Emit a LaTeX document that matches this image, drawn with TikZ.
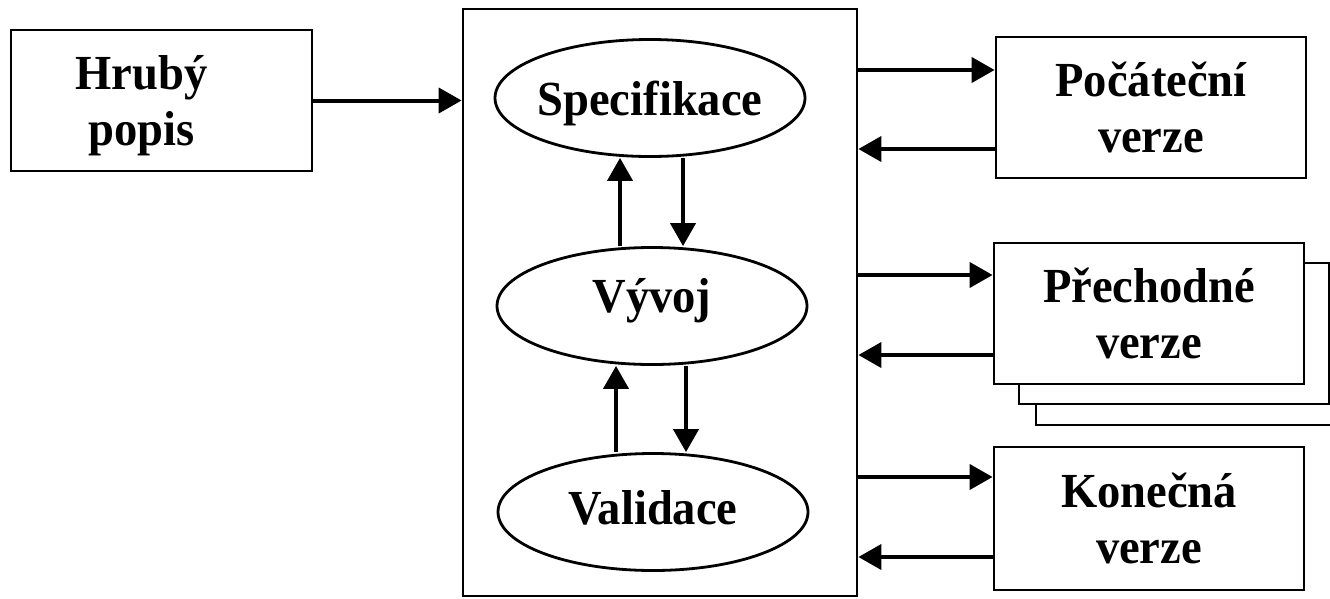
\documentclass[tikz,border=0pt]{standalone}
\usepackage{fontspec}
\setmainfont{Liberation Serif}[FakeStretch=0.95]
\usetikzlibrary{arrows.meta,shapes.geometric}
\tikzset{
  box/.style={draw, line width=2.8pt, minimum width=310pt, minimum height=141pt, align=center, inner sep=0pt,
    text height=92pt, text depth=2pt},
  faze/.style={draw, ellipse, line width=2.8pt, minimum width=310pt, minimum height=117pt, inner xsep=-15pt, inner ysep=0pt, text height=40pt},
  sip/.style={line width=4pt, -{Triangle[length=23pt,width=25pt]}}
}
\begin{document}
\begin{tikzpicture}[x=1pt, y=-1pt, font=\fontsize{49}{56}\selectfont\bfseries]
\useasboundingbox (0,0) rectangle (1330,598);
% vstup
\node[box, minimum width=301pt] (hrub) at (161.5,100.5) {Hrubý\hspace*{40pt}\\popis\hspace*{40pt}};
% hlavni blok
\node[draw, line width=2.8pt, minimum width=394pt, minimum height=587pt] (blok) at (660,302.5) {};
\node[faze, text depth=6pt] (spec) at (650,98) {Specifikace};
\node[faze, text depth=28pt] (vyv) at (652,306) {Vývoj};
\node[faze, text depth=16pt] (val) at (653,512) {Validace};
% verze
\foreach \i/\dx/\dy in {3/42/41, 2/25/20} {
  \node[box, fill=white] (pre\i) at ({1149+\dx},{313.5+\dy}) {};
}
\node[box, fill=white] (pre) at (1149,313.5) {Přechodné\\verze};
\node[box] (poc) at (1151,107.5) {Počáteční\\verze};
\node[box, minimum height=143pt] (kon) at (1149,518.5) {Konečná\\verze};
% sipky
\draw[sip] (hrub.east) -- (hrub.east -| blok.west);
\draw[sip] ([xshift=-32pt]vyv.north) -- ([xshift=-32pt]vyv.north |- spec.south);
\draw[sip] ([xshift=33pt]spec.south) -- ([xshift=33pt]spec.south |- vyv.north);
\draw[sip] ([xshift=-37pt]val.north) -- ([xshift=-37pt]val.north |- vyv.south);
\draw[sip] ([xshift=34pt]vyv.south) -- ([xshift=34pt]vyv.south |- val.north);
\foreach \n/\ya/\yb in {poc/37.5/41.5, pre/38.5/41.5, kon/41.5/38.5} {
  \coordinate (a) at ([yshift=\ya pt]\n.west);
  \coordinate (b) at ([yshift=-\yb pt]\n.west);
  \draw[sip] (a -| blok.east) -- (a);
  \draw[sip] (b) -- (b -| blok.east);
}
\end{tikzpicture}
\end{document}
